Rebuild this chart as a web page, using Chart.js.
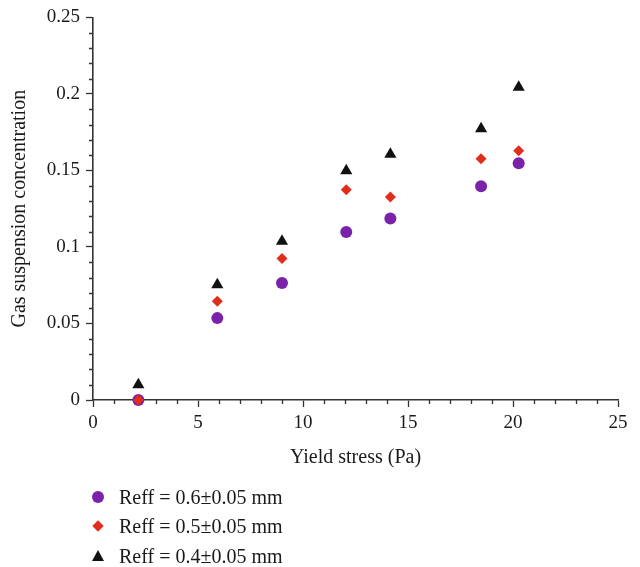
<!DOCTYPE html>
<html>
<head>
<meta charset="utf-8">
<script src="https://cdn.jsdelivr.net/npm/chart.js@4.4.1/dist/chart.umd.min.js"></script>
<style>
    body { margin: 0; background: #fff; }
    #wrap { position: relative; width: 640px; height: 567px; }
    #legend { position: absolute; left: 0; top: 0; font-family: "Liberation Serif", serif; font-size: 20px; color: #1a1a1a; }
    .item { position: absolute; left: 86px; height: 24px; display: flex; align-items: center; white-space: nowrap; }
    .mark { width: 24px; height: 24px; position: relative; margin-right: 9px; }
    .mark span { position: absolute; }
</style>
</head>
<body>
<div id="wrap">
    <canvas id="chart" width="640" height="567"></canvas>
    <div id="legend"></div>
</div>
<script>
"use strict";

// values
const yieldStress = [2.16, 5.92, 9.0, 12.06, 14.16, 18.48, 20.27];
const concR06 = [0, 0.0535, 0.0764, 0.1097, 0.1186, 0.1396, 0.1547];
const concR05 = [0, 0.0645, 0.0924, 0.1374, 0.1327, 0.1576, 0.1628];
const concR04 = [0.010, 0.0753, 0.1037, 0.1498, 0.1606, 0.1773, 0.2044];

const seriesLabels = ["Reff = 0.6\u00b10.05 mm", "Reff = 0.5\u00b10.05 mm", "Reff = 0.4\u00b10.05 mm"];
const xTickValues = [0, 5, 10, 15, 20, 25];
const yTickValues = [0, 0.05, 0.1, 0.15, 0.2, 0.25];
const yTickLabels = ["0", "0.05", "0.1", "0.15", "0.2", "0.25"];

const PURPLE = "#7b22ab";
const RED = "#e02d1c";
const BLACK = "#111111";
const AXIS = "#333333";
const TEXT = "#1a1a1a";
const FONT = "'Liberation Serif', serif";

function toPoints(xs, ys) {
    return xs.map((x, i) => ({ x, y: ys[i] }));
}

// short unlabelled ticks between the major ones
const minorTicks = {
    id: "minorTicks",
    beforeDatasetsDraw(chart) {
        const { ctx, chartArea, scales: { x, y } } = chart;
        ctx.save();
        ctx.strokeStyle = AXIS;
        ctx.lineWidth = 1.3;
        ctx.beginPath();
        for (let v = 1; v < 25; v++) {
            if (v % 5 === 0) continue;
            const px = Math.round(x.getPixelForValue(v)) + 0.5;
            ctx.moveTo(px, chartArea.bottom);
            ctx.lineTo(px, chartArea.bottom + 4);
        }
        for (let k = 1; k < 25; k++) {
            if (k % 5 === 0) continue;
            const py = Math.round(y.getPixelForValue(k / 100)) + 0.5;
            ctx.moveTo(chartArea.left, py);
            ctx.lineTo(chartArea.left - 4, py);
        }
        ctx.stroke();
        ctx.restore();
    }
};

const datasets = [
    { label: seriesLabels[0], data: toPoints(yieldStress, concR06), pointStyle: "circle", pointRadius: 6, backgroundColor: PURPLE, order: 3 },
    { label: seriesLabels[1], data: toPoints(yieldStress, concR05), pointStyle: "rectRot", pointRadius: 5.5, backgroundColor: RED, order: 2 },
    { label: seriesLabels[2], data: toPoints(yieldStress, concR04), pointStyle: "triangle", pointRadius: 7, backgroundColor: BLACK, order: 1 }
];
for (const ds of datasets) {
    ds.borderWidth = 0;
    ds.borderColor = ds.backgroundColor;
    ds.pointHoverRadius = ds.pointRadius;
    ds.clip = false;
}

const ctx = document.getElementById("chart").getContext("2d");
new Chart(ctx, {
    type: "scatter",
    data: { datasets },
    plugins: [minorTicks],
    options: {
        responsive: false,
        animation: false,
        layout: { padding: { left: 0, top: 15, right: 22, bottom: 97 } },
        plugins: { legend: { display: false }, tooltip: { enabled: false } },
        scales: {
            x: {
                type: "linear",
                min: 0,
                max: 25,
                afterBuildTicks: (s) => { s.ticks = xTickValues.map(value => ({ value })); },
                afterFit: (s) => { s.height = 70; },
                border: { display: true, color: AXIS, width: 1.6 },
                grid: { display: true, drawOnChartArea: false, drawTicks: true, tickLength: 7, tickColor: AXIS, tickWidth: 1.3 },
                ticks: { color: TEXT, padding: 5, maxRotation: 0, font: { family: FONT, size: 19 } },
                title: { display: true, text: "Yield stress (Pa)", color: TEXT, padding: { top: 0, bottom: 0 }, font: { family: FONT, size: 20 } }
            },
            y: {
                type: "linear",
                min: 0,
                max: 0.25,
                afterBuildTicks: (s) => { s.ticks = yTickValues.map(value => ({ value })); },
                afterFit: (s) => { s.width = 93; },
                border: { display: true, color: AXIS, width: 1.6 },
                grid: { display: true, drawOnChartArea: false, drawTicks: true, tickLength: 7, tickColor: AXIS, tickWidth: 1.3 },
                ticks: {
                    color: TEXT,
                    padding: 6,
                    font: { family: FONT, size: 19 },
                    callback: (value, index) => yTickLabels[index]
                },
                title: { display: true, text: "Gas suspension concentration", color: TEXT, padding: { top: 8, bottom: 0 }, font: { family: FONT, size: 20 } }
            }
        }
    }
});

// legend under the plot, one entry per line
const legendY = [497, 526, 556];
const legend = document.getElementById("legend");
datasets.forEach((ds, i) => {
    const item = document.createElement("div");
    item.className = "item";
    item.style.top = (legendY[i] - 12) + "px";
    const mark = document.createElement("div");
    mark.className = "mark";
    const shape = document.createElement("span");
    if (ds.pointStyle === "circle") {
        Object.assign(shape.style, { left: "6px", top: "6px", width: "12px", height: "12px", borderRadius: "50%", background: ds.backgroundColor });
    } else if (ds.pointStyle === "rectRot") {
        Object.assign(shape.style, { left: "8px", top: "8px", width: "8px", height: "8px", transform: "rotate(45deg)", background: ds.backgroundColor });
    } else {
        Object.assign(shape.style, { left: "6px", top: "6px", width: "0", height: "0", borderLeft: "6px solid transparent", borderRight: "6px solid transparent", borderBottom: "11px solid " + ds.backgroundColor });
    }
    mark.appendChild(shape);
    item.appendChild(mark);
    item.appendChild(document.createTextNode(ds.label));
    legend.appendChild(item);
});
</script>
</body>
</html>
